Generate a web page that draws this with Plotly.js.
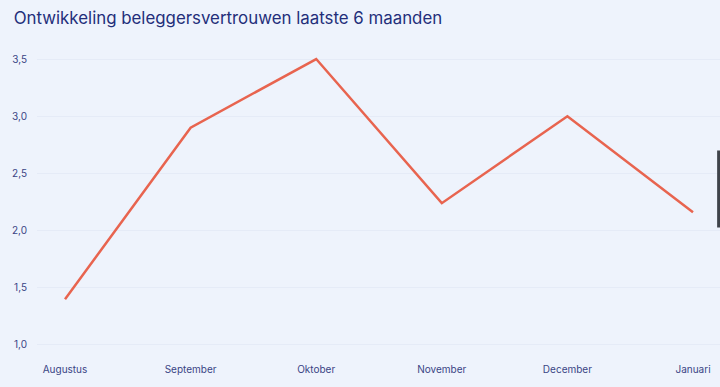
<!DOCTYPE html>
<html>
<head>
<meta charset="utf-8">
<script src="https://cdn.plot.ly/plotly-3.0.1.min.js"></script>
<style>html,body{margin:0;padding:0;background:#EEF3FC;}#chart{width:720px;height:387px;}</style>
</head>
<body>
<div id="chart"></div>
<script>
const months = ["Augustus", "September", "Oktober", "November", "December", "Januari"];
const confidence = [1.4, 2.9, 3.5, 2.24, 3.0, 2.16];
const yTicks = [1.0, 1.5, 2.0, 2.5, 3.0, 3.5];

const trace = {
  x: months,
  y: confidence,
  type: "scatter",
  mode: "lines",
  line: {color: "#E8644F", width: 2.5},
  hoverinfo: "skip"
};

const layout = {
  width: 720,
  height: 387,
  paper_bgcolor: "#EEF3FC",
  plot_bgcolor: "#EEF3FC",
  separators: ",.",
  font: {family: "Inter, 'Open Sans', sans-serif", color: "#2E3A82"},
  title: {
    text: "Ontwikkeling beleggersvertrouwen laatste 6 maanden",
    x: 0.019, xanchor: "left", y: 0.952, yanchor: "middle",
    font: {family: "Inter, sans-serif", size: 16.85, color: "#232E7A"}
  },
  margin: {l: 37, r: 0, t: 50, b: 30},
  showlegend: false,
  xaxis: {
    type: "category",
    range: [-0.223, 5.215],
    showgrid: false,
    zeroline: false,
    showline: false,
    ticks: "",
    ticklabelstandoff: 5,
    tickfont: {size: 10, color: "#3A4585"},
    fixedrange: true
  },
  yaxis: {
    range: [0.895, 3.579],
    tickvals: yTicks,
    tickformat: ".1f",
    showgrid: true,
    gridcolor: "#E5EBF7",
    gridwidth: 1,
    zeroline: false,
    showline: false,
    ticks: "outside",
    ticklen: 7,
    tickcolor: "rgba(0,0,0,0)",
    tickfont: {size: 10, color: "#3A4585"},
    fixedrange: true
  },
  shapes: [{
    type: "rect", xref: "paper", yref: "paper",
    x0: 0.998, x1: 1.02,
    y0: (357 - 226) / 307, y1: (357 - 152) / 307,
    fillcolor: "#FFFFFF",
    line: {color: "#3F434A", width: 3}
  }]
};

Plotly.newPlot("chart", [trace], layout, {displayModeBar: false, staticPlot: true});
</script>
</body>
</html>
